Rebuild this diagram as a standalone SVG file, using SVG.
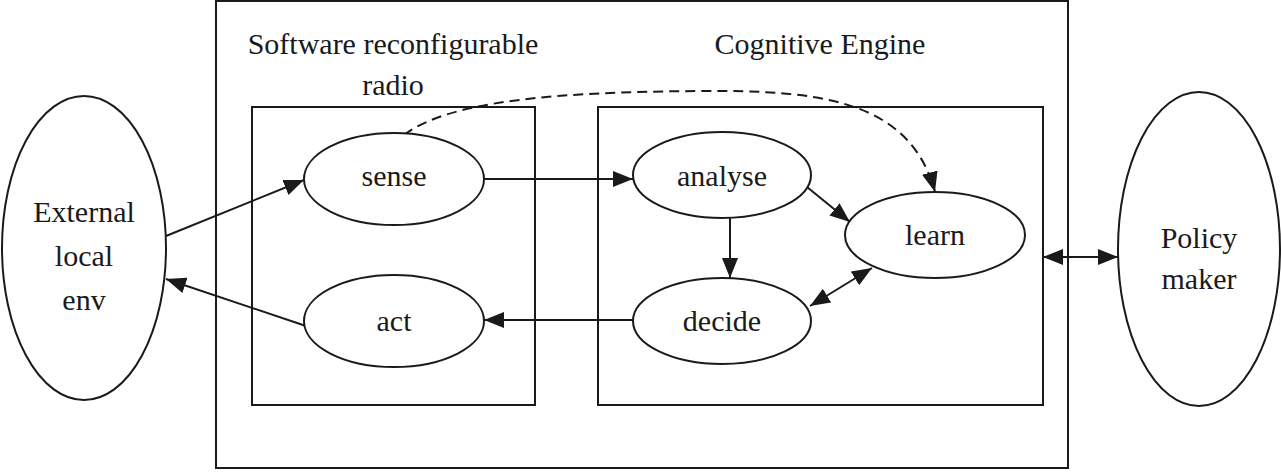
<svg xmlns="http://www.w3.org/2000/svg" width="1281" height="472" viewBox="0 0 1281 472">
  <style>
    .box { fill: none; stroke: #1a1a1a; stroke-width: 2; }
    .node { fill: #ffffff; stroke: #1a1a1a; stroke-width: 2; }
    .lbl { font-family: 'Liberation Serif', 'Times New Roman', Times, serif; font-size: 30px; fill: #1a1a1a; text-anchor: middle; }
    .edge { fill: none; stroke: #1a1a1a; stroke-width: 2; }
    .dash { stroke-dasharray: 10 6; }
  </style>
  <defs>
    <marker id="arrow" viewBox="0 0 20 16" refX="20" refY="8" markerWidth="20" markerHeight="16" markerUnits="userSpaceOnUse" orient="auto-start-reverse">
      <path d="M0,0 L20,8 L0,16 Z" fill="#1a1a1a"/>
    </marker>
  </defs>
  <rect width="1281" height="472" fill="#ffffff"/>

  <!-- containers -->
  <g id="outer-frame">
    <rect class="box" x="216" y="1" width="852" height="467"/>
  </g>
  <g id="sdr">
    <rect class="box" x="252" y="107" width="283" height="298"/>
    <text class="lbl" x="393" y="54">Software reconfigurable</text>
    <text class="lbl" x="393" y="95">radio</text>
  </g>
  <g id="cognitive-engine">
    <rect class="box" x="598" y="107" width="445" height="298"/>
    <text class="lbl" x="820" y="54">Cognitive Engine</text>
  </g>

  <!-- connectors -->
  <g id="connectors">
    <path class="edge" d="M166,236 L304,180" marker-end="url(#arrow)"/>
    <path class="edge" d="M306,326 L166,279" marker-end="url(#arrow)"/>
    <path class="edge" d="M484,179 L633,179" marker-end="url(#arrow)"/>
    <path class="edge" d="M730,218 L730,278" marker-end="url(#arrow)"/>
    <path class="edge" d="M807,187 L850,222" marker-end="url(#arrow)"/>
    <path class="edge" d="M810,306 L872,268" marker-start="url(#arrow)" marker-end="url(#arrow)"/>
    <path class="edge" d="M633,320 L484,320" marker-end="url(#arrow)"/>
    <path class="edge" d="M1043,257 L1118,257" marker-start="url(#arrow)" marker-end="url(#arrow)"/>
    <path class="edge dash" d="M404,135 C450,100 560,92 700,91 C820,90 910,100 935,192" marker-end="url(#arrow)"/>
  </g>

  <!-- nodes -->
  <g id="external-env">
    <ellipse class="node" cx="84" cy="248" rx="82" ry="152"/>
    <text class="lbl" x="84" y="222">External</text>
    <text class="lbl" x="84" y="266">local</text>
    <text class="lbl" x="84" y="310">env</text>
  </g>
  <g id="sense">
    <ellipse class="node" cx="394" cy="179" rx="90" ry="46"/>
    <text class="lbl" x="394" y="186">sense</text>
  </g>
  <g id="act">
    <ellipse class="node" cx="394" cy="321" rx="90" ry="46"/>
    <text class="lbl" x="394" y="331">act</text>
  </g>
  <g id="analyse">
    <ellipse class="node" cx="722" cy="175" rx="89" ry="43"/>
    <text class="lbl" x="722" y="186">analyse</text>
  </g>
  <g id="learn">
    <ellipse class="node" cx="935" cy="235" rx="90" ry="43"/>
    <text class="lbl" x="935" y="245">learn</text>
  </g>
  <g id="decide">
    <ellipse class="node" cx="722" cy="321" rx="89" ry="43"/>
    <text class="lbl" x="722" y="331">decide</text>
  </g>
  <g id="policy-maker">
    <ellipse class="node" cx="1199" cy="249" rx="81" ry="157"/>
    <text class="lbl" x="1199" y="248">Policy</text>
    <text class="lbl" x="1199" y="289">maker</text>
  </g>
</svg>
